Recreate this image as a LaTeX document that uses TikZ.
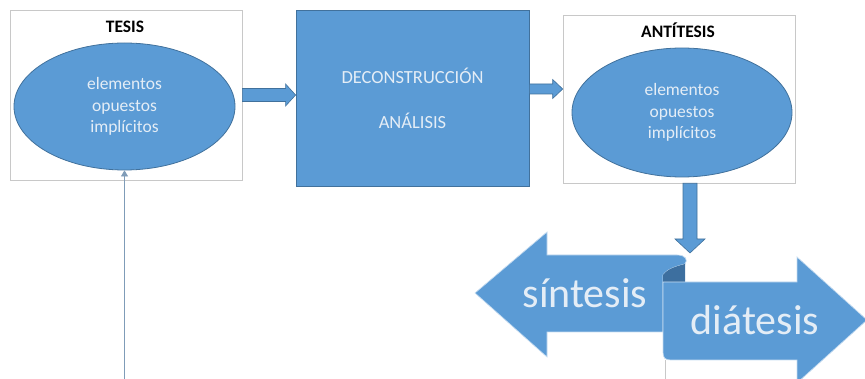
\documentclass[tikz,border=0pt]{standalone}
\usepackage{fontspec}
\setmainfont{Carlito}
\usetikzlibrary{calc,shapes.geometric,arrows.meta}

\definecolor{officeblue}{HTML}{5B9BD5}
\definecolor{edgeblue}{HTML}{41719C}
\definecolor{curlblue}{HTML}{3D6F9F}
\definecolor{paleline}{HTML}{C8C8C8}
\definecolor{softwhite}{HTML}{E4EDF6}
\definecolor{thinblue}{HTML}{7F9CB8}

% block arrow between two anchors (start, tip, half shaft, half head, head length)
\newcommand{\harrow}[5]{%
  \draw[blockarrow] let \p1=(#1), \p2=(#2) in
    (\x1,\y1+#3) -- (\x2-#5,\y1+#3) -- (\x2-#5,\y1+#4) -- (\x2,\y1)
    -- (\x2-#5,\y1-#4) -- (\x2-#5,\y1-#3) -- (\x1,\y1-#3) -- cycle;}
\newcommand{\varrow}[5]{%
  \draw[blockarrow] let \p1=(#1), \p2=(#2) in
    (\x1-#3,\y1) -- (\x1-#3,\y2+#5) -- (\x1-#4,\y2+#5) -- (\x1,\y2)
    -- (\x1+#4,\y2+#5) -- (\x1+#3,\y2+#5) -- (\x1+#3,\y1) -- cycle;}

\begin{document}
\begin{tikzpicture}[x=1pt,y=-1pt,
    framebox/.style={draw=paleline, line width=.6pt, fill=white, rectangle},
    blob/.style={ellipse, draw=edgeblue, line width=.8pt, fill=officeblue,
      text=softwhite, align=center, inner sep=0pt,
      font=\fontsize{17.5}{21.5}\selectfont},
    caption/.style={font=\fontsize{17.5}{19}\selectfont\bfseries, anchor=base},
    blockarrow/.style={fill=officeblue, draw=edgeblue, line width=.6pt},
    ribbon/.style={fill=officeblue, draw=white!65!officeblue, line width=.7pt},
    big/.style={text=softwhite, font=\fontsize{42}{44}\selectfont, anchor=base}]
  \useasboundingbox (0,0) rectangle (865,379);

  % tesis
  \node[framebox, minimum width=232pt, minimum height=170pt] (tesisbox) at (126,95) {};
  \node[caption] (tesislabel) at (125,33) {TESIS};
  \node[blob, minimum width=221pt, minimum height=127pt] (tesis) at (124.5,106.5)
    {elementos\\opuestos\\implícitos};

  % analisis
  \node[rectangle, fill=officeblue, draw=edgeblue, line width=.8pt, text=softwhite,
    minimum width=233pt, minimum height=176pt, align=center,
    font=\fontsize{18.5}{45}\selectfont] (decon) at (412.5,98)
    {DECONSTRUCCIÓN\\ANÁLISIS};

  % antitesis
  \node[framebox, minimum width=232pt, minimum height=168pt] (antibox) at (679,99) {};
  \node[caption] (antilabel) at (678,38) {ANTÍTESIS};
  \node[blob, minimum width=220pt, minimum height=129pt] (anti) at (682,112.5)
    {elementos\\opuestos\\implícitos};

  \coordinate (curltop) at (690,253);
  \coordinate (linefoot) at (124.5,379);

  % flechas
  \harrow{tesisbox.east}{decon.west}{6.5pt}{11pt}{10pt}
  \harrow{$(decon.east)+(0,-9)$}{antibox.west}{5pt}{9.5pt}{10pt}
  \varrow{$(antibox.south)+(11,0)$}{curltop}{7pt}{15pt}{14pt}
  \draw[thinblue, line width=.7pt, -{Triangle[length=6pt,width=7pt]}]
    (linefoot) -- (tesis.south);

  % sintesis / diatesis
  \draw[ribbon] (475,293) -- (547,232) -- (547,255) -- (677,255)
    .. controls (686,255) and (688,260) .. (685,264)
    .. controls (678,266) and (668,268) .. (663,275)
    -- (663,332) -- (547,332) -- (547,357) -- cycle;
  \fill[curlblue] (663,282) -- (663,275) .. controls (668,268) and (678,266) .. (685,264)
    -- (685,282) -- cycle;
  \draw[ribbon] (663,282) -- (797,282) -- (797,257) -- (867,320) -- (797,383)
    -- (797,360) -- (671,360) .. controls (665,360) and (663,358) .. (663,352) -- cycle;
  \draw[paleline, line width=.6pt] (665,360) -- (665,379);
  \node[big] (sintesis) at (585,308) {síntesis};
  \node[big] (diatesis) at (755,335) {diátesis};
\end{tikzpicture}
\end{document}
